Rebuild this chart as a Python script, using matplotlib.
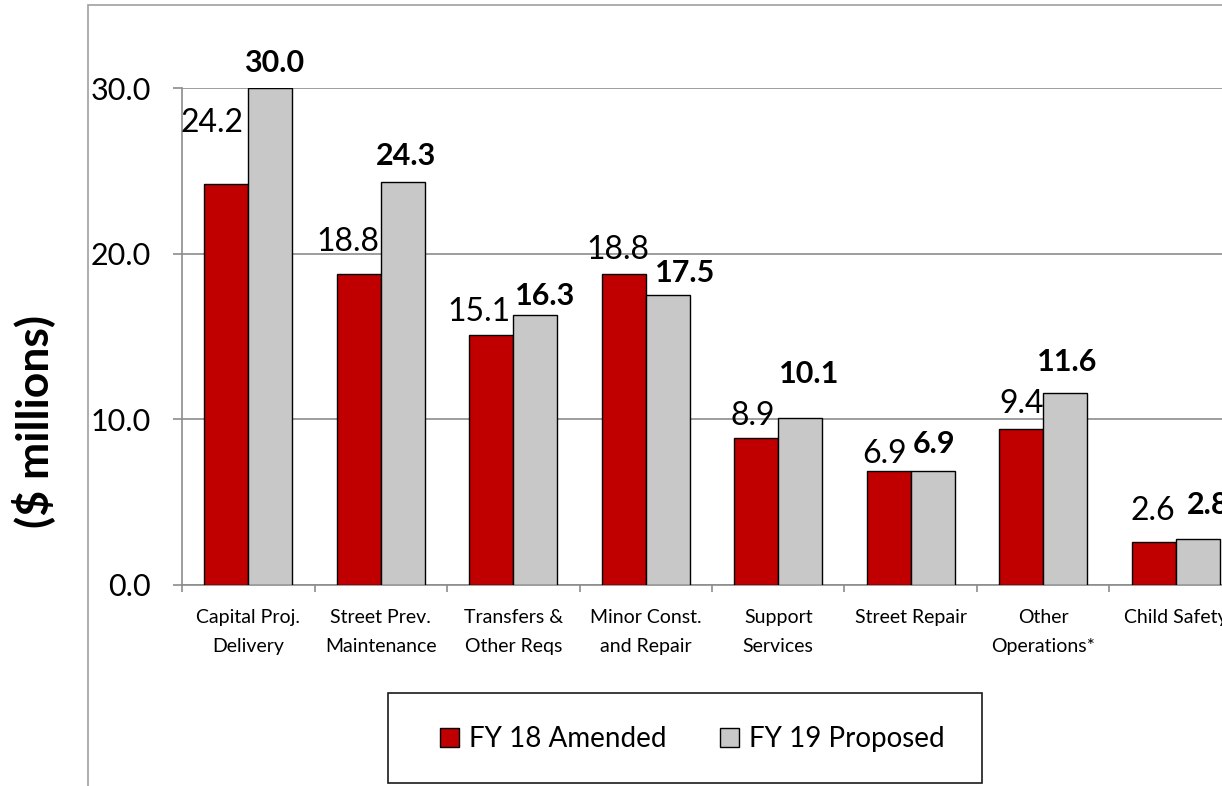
import matplotlib
matplotlib.use("Agg")
import matplotlib.pyplot as plt
import numpy as np
from matplotlib.patches import Rectangle, Patch

plt.rcParams['font.family'] = ['Lato', 'DejaVu Sans']

categories = ["Capital Proj.\nDelivery", "Street Prev.\nMaintenance", "Transfers &\nOther Reqs",
              "Minor Const.\nand Repair", "Support\nServices", "Street Repair",
              "Other\nOperations*", "Child Safety"]
fy18_amended = [24.2, 18.8, 15.1, 18.8, 8.9, 6.9, 9.4, 2.6]
fy19_proposed = [30.0, 24.3, 16.3, 17.5, 10.1, 6.9, 11.6, 2.8]
series_names = ["FY 18 Amended", "FY 19 Proposed"]
yticks = [0, 10, 20, 30]

# labels were dragged around by hand in the original, nudges in pixels
fy18_nudge = [(-14, 52), (-11, 23), (-12, 14), (-6, 15), (-4, 13), (-4, 8), (0, 16), (-1, 22)]
fy19_nudge = [(4, 16), (3, 17), (10, 10), (17, 13), (9, 35), (1, 18), (2, 22), (10, 25)]

red = '#c00000'
grey = '#c8c8c8'
axis_grey = '#8c8c8c'

W, H = 1222, 786
fig = plt.figure(figsize=(W / 100, H / 100), dpi=100)
# axes runs off the right edge, the last group is cut in the original too
ax = fig.add_axes([182 / W, 1 - 585 / H, (1242 - 182) / W, (585 - 88) / H])

x = np.arange(len(categories))
w = 0.332
ax.bar(x - w / 2, fy18_amended, w, color=red, edgecolor='black', lw=1.0, zorder=3)
ax.bar(x + w / 2, fy19_proposed, w, color=grey, edgecolor='black', lw=1.0, zorder=3)

for xi, v, (dx, dy) in zip(x, fy18_amended, fy18_nudge):
    ax.annotate(f"{v:.1f}", (xi - w / 2, v), xytext=(dx, dy), textcoords='offset pixels',
                ha='center', va='baseline', fontsize=23, annotation_clip=False)
for xi, v, (dx, dy) in zip(x, fy19_proposed, fy19_nudge):
    ax.annotate(f"{v:.1f}", (xi + w / 2, v), xytext=(dx, dy), textcoords='offset pixels',
                ha='center', va='baseline', fontsize=22, fontweight='bold', annotation_clip=False)

ax.set_xlim(-0.5, len(categories) - 0.5)
ax.set_ylim(0, 30)
ax.set_yticks(yticks)
ax.set_yticklabels([f"{t:.1f}" for t in yticks], fontsize=22)
ax.tick_params(axis='y', length=6.5, width=1.2, color=axis_grey, pad=16)
ax.set_xticks(x)
ax.set_xticklabels(categories, fontsize=14, linespacing=1.9)
ax.tick_params(axis='x', which='major', length=0, pad=17)
ax.set_xticks(np.arange(len(categories) + 1) - 0.5, minor=True)
ax.tick_params(axis='x', which='minor', length=5, width=1.2, color=axis_grey)

ax.yaxis.grid(True, color=axis_grey, lw=1.2)
ax.set_axisbelow(True)
for s in ['top', 'right']:
    ax.spines[s].set_visible(False)
for s in ['left', 'bottom']:
    ax.spines[s].set_color(axis_grey)
    ax.spines[s].set_linewidth(1.2)

fig.text(33 / W, 1 - 421 / H, "($ millions)", rotation=90, ha='center', va='center',
         fontsize=32, fontweight='bold')

# outer frame of the slide object
fig.patches.append(Rectangle((88 / W, -0.05), 1.0, 1.05 - 5.5 / H, transform=fig.transFigure,
                             fill=False, edgecolor='#a0a0a0', lw=1.2))
# legend box is wider than its content
fig.patches.append(Rectangle((388 / W, 1 - 783 / H), (982 - 388) / W, 90 / H,
                             transform=fig.transFigure, fill=False, edgecolor='#1a1a1a', lw=1.2))
handles = [Patch(facecolor=red, edgecolor='black', lw=1.0),
           Patch(facecolor=grey, edgecolor='black', lw=1.0)]
fig.legend(handles, series_names, loc='center left', bbox_to_anchor=(426 / W, 1 - 739 / H),
           ncol=2, frameon=False, borderpad=0, handlelength=0.68, handleheight=0.68,
           handletextpad=0.36, columnspacing=1.95, prop={'size': 20})

fig.savefig("out.png", dpi=100)
